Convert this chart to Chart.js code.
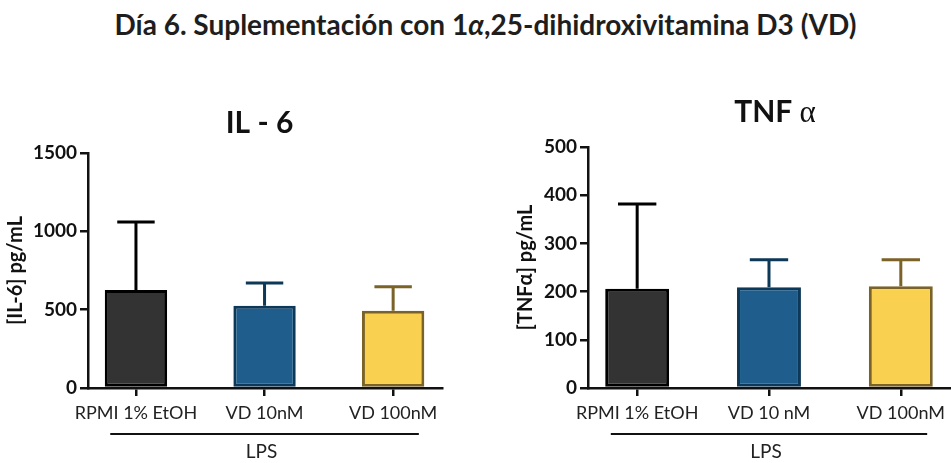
<!DOCTYPE html>
<html>
<head>
<meta charset="utf-8">
<script src="https://cdn.jsdelivr.net/npm/chart.js@4/dist/chart.umd.min.js"></script>
<style>
  html, body { margin: 0; padding: 0; background: #fff; }
  body { width: 951px; height: 463px; position: relative; overflow: hidden; font-family: Lato, 'Noto Sans', sans-serif; }
  #main-title { position: absolute; left: 10px; top: 7px; width: 951px; text-align: center; font-size: 28px; line-height: normal; font-weight: bold; color: #1e1e1e; white-space: nowrap; }
  .box { position: absolute; top: 70px; height: 393px; }
  #box-il6 { left: 0; width: 520px; }
  #box-tnf { left: 480px; width: 471px; }
</style>
</head>
<body>
<div id="main-title">Día 6. Suplementación con 1<i>α</i>,25-dihidroxivitamina D3 (VD)</div>
<div class="box" id="box-il6"><canvas id="il6"></canvas></div>
<div class="box" id="box-tnf"><canvas id="tnf"></canvas></div>
<script>
(function () {
  'use strict';

  // data (mean and upper SD)
  var il6Labels = ['RPMI 1% EtOH', 'VD 10nM', 'VD 100nM'];
  var il6Means = [625, 525, 493];
  var il6Errors = [435, 145, 153];
  var il6Ticks = [0, 500, 1000, 1500];

  var tnfLabels = ['RPMI 1% EtOH', 'VD 10 nM', 'VD 100nM'];
  var tnfMeans = [206, 209, 211];
  var tnfErrors = [176, 57, 55];
  var tnfTicks = [0, 100, 200, 300, 400, 500];

  var fills = ['#333333', '#1f5e8c', '#f9d04f'];
  var borders = ['#000000', '#0e3857', '#7b6227'];

  var FONT = 'Lato, "Noto Sans", sans-serif';
  var SERIF = '"Liberation Serif", "DejaVu Serif", serif';

  // whiskers, title and the LPS bracket
  var extras = {
    id: 'extras',
    afterDatasetsDraw: function (chart, args, opts) {
      var ctx = chart.ctx;
      var meta = chart.getDatasetMeta(0);
      var ys = chart.scales.y;
      var xs = chart.scales.x;
      ctx.save();
      ctx.lineWidth = 3;
      meta.data.forEach(function (bar, i) {
        var top = ys.getPixelForValue(opts.means[i] + opts.errors[i]);
        var cap = bar.width * 0.6;
        ctx.strokeStyle = borders[i];
        ctx.beginPath();
        ctx.moveTo(bar.x, bar.y);
        ctx.lineTo(bar.x, top);
        ctx.moveTo(bar.x - cap / 2, top);
        ctx.lineTo(bar.x + cap / 2, top);
        ctx.stroke();
      });

      // chart title (greek part set in a serif face, as in the figure)
      ctx.fillStyle = '#111';
      ctx.textBaseline = 'alphabetic';
      ctx.textAlign = 'left';
      var f1 = 'bold 30px ' + FONT;
      var f2 = '31px ' + SERIF;
      ctx.font = f1;
      var w1 = ctx.measureText(opts.title).width;
      var w2 = 0;
      if (opts.greek) { ctx.font = f2; w2 = ctx.measureText(opts.greek).width; }
      var x0 = xs.getPixelForValue(1) + opts.titleDx - (w1 + w2) / 2;
      ctx.font = f1;
      ctx.fillText(opts.title, x0, opts.titleY);
      if (opts.greek) { ctx.font = f2; ctx.fillText(opts.greek, x0 + w1, opts.titleY); }

      // LPS bracket
      var yb = chart.chartArea.bottom;
      ctx.strokeStyle = '#111';
      ctx.lineWidth = 2;
      ctx.beginPath();
      ctx.moveTo(xs.getPixelForValue(-0.2), yb + 46);
      ctx.lineTo(xs.getPixelForValue(2.2), yb + 46);
      ctx.stroke();
      ctx.font = '19px ' + FONT;
      ctx.fillStyle = '#222';
      ctx.textAlign = 'center';
      ctx.textBaseline = 'middle';
      ctx.fillText('LPS', xs.getPixelForValue(1) - 3, yb + 64);
      ctx.restore();
    }
  };

  function makeChart(id, cfg) {
    var points = cfg.means.map(function (v, i) { return { x: i, y: v }; });
    return new Chart(document.getElementById(id), {
      type: 'bar',
      data: {
        datasets: [{
          data: points,
          backgroundColor: fills,
          borderColor: borders,
          borderWidth: 3,
          borderSkipped: false,
          categoryPercentage: 1,
          barPercentage: 0.485
        }]
      },
      plugins: [extras],
      options: {
        responsive: true,
        maintainAspectRatio: false,
        animation: false,
        layout: { padding: cfg.padding },
        plugins: {
          legend: { display: false },
          tooltip: { enabled: false },
          extras: {
            means: cfg.means, errors: cfg.errors,
            title: cfg.title, greek: cfg.greek, titleDx: cfg.titleDx, titleY: cfg.titleY
          }
        },
        scales: {
          x: {
            type: 'linear',
            offset: false,
            min: -0.373,
            max: 2.38,
            afterBuildTicks: function (scale) {
              scale.ticks = cfg.labels.map(function (l, i) { return { value: i }; });
            },
            afterFit: function (scale) { scale.height = 75; },
            ticks: {
              autoSkip: false,
              maxRotation: 0,
              padding: 6,
              color: '#222',
              font: { family: FONT, size: 18 },
              callback: function (v) { return cfg.labels[v]; }
            },
            grid: { offset: false, drawOnChartArea: false, drawTicks: true, tickLength: 8, color: '#111', lineWidth: 2.5 },
            border: { display: true, color: '#111', width: 2.5 }
          },
          y: {
            min: 0,
            max: cfg.ticks[cfg.ticks.length - 1],
            afterBuildTicks: function (scale) {
              scale.ticks = cfg.ticks.map(function (v) { return { value: v }; });
            },
            afterFit: function (scale) { scale.width = cfg.yWidth; },
            ticks: {
              padding: 3,
              color: '#111',
              font: { family: FONT, size: 19, weight: 'bold' },
              callback: function (v) { return String(v); }
            },
            grid: { drawOnChartArea: false, drawTicks: true, tickLength: 8, color: '#111', lineWidth: 2.5 },
            border: { display: true, color: '#111', width: 2.5 },
            title: {
              display: true,
              text: cfg.yTitle,
              color: '#111',
              padding: { top: cfg.yTitlePad, bottom: 0 },
              font: { family: FONT, size: 20, weight: 'bold' }
            }
          }
        }
      }
    });
  }

  makeChart('il6', {
    labels: il6Labels, means: il6Means, errors: il6Errors, ticks: il6Ticks,
    title: 'IL - 6', greek: '', titleDx: -5, titleY: 63,
    yTitle: '[IL-6] pg/mL', yTitlePad: 4, yWidth: 88,
    padding: { top: 83, right: 78, left: 0, bottom: 0 }
  });

  makeChart('tnf', {
    labels: tnfLabels, means: tnfMeans, errors: tnfErrors, ticks: tnfTicks,
    title: 'TNF ', greek: 'α', titleDx: 6, titleY: 52,
    yTitle: '[TNFα] pg/mL', yTitlePad: 4, yWidth: 78,
    padding: { top: 77, right: 0, left: 30, bottom: 0 }
  });
})();
</script>
</body>
</html>
